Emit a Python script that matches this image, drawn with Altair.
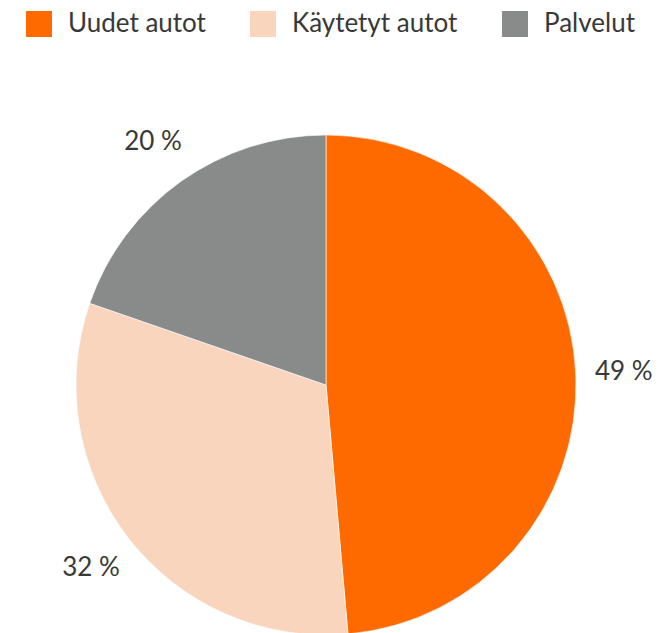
import altair as alt
import pandas as pd

categories = ["Uudet autot", "Käytetyt autot", "Palvelut"]
shares = [48.6, 31.7, 19.7]
labels = ["49 %", "32 %", "20 %"]
colors = ["#FF6A00", "#FAD5BD", "#888B8A"]

df = pd.DataFrame({
    "kategoria": categories,
    "osuus": shares,
    "label": labels,
    "jarjestys": list(range(len(categories))),
})

FONT = "Lato"
cx, cy = 318, 377

base = alt.Chart(df).encode(
    theta=alt.Theta("osuus:Q", stack=True),
    order=alt.Order("jarjestys:Q"),
)

pie = base.mark_arc(outerRadius=250, stroke="white", strokeWidth=0.6).encode(
    x=alt.value(cx),
    y=alt.value(cy),
    color=alt.Color(
        "kategoria:N",
        scale=alt.Scale(domain=categories, range=colors),
        sort=categories,
        legend=alt.Legend(
            title=None,
            orient="none",
            direction="horizontal",
            legendX=18,
            legendY=3,
            symbolType="square",
            symbolSize=676,
            symbolStrokeWidth=0,
            symbolOpacity=1,
            labelFont=FONT,
            labelFontSize=26,
            labelColor="#383838",
            labelOffset=16,
            columnPadding=44,
            padding=0,
            labelLimit=400,
        ),
    ),
)

text = base.mark_text(
    radius=298, font=FONT, fontSize=26, color="#383838",
    align="center", baseline="middle"
).encode(
    x=alt.value(cx),
    y=alt.value(cy),
    text="label:N",
)

chart = (
    alt.layer(pie, text)
    .properties(width=653, height=626, autosize=alt.AutoSizeParams(type="none"), padding=0)
    .configure_view(stroke=None)
)

chart.save("out.html", embed_options={"renderer": "svg", "actions": False})
